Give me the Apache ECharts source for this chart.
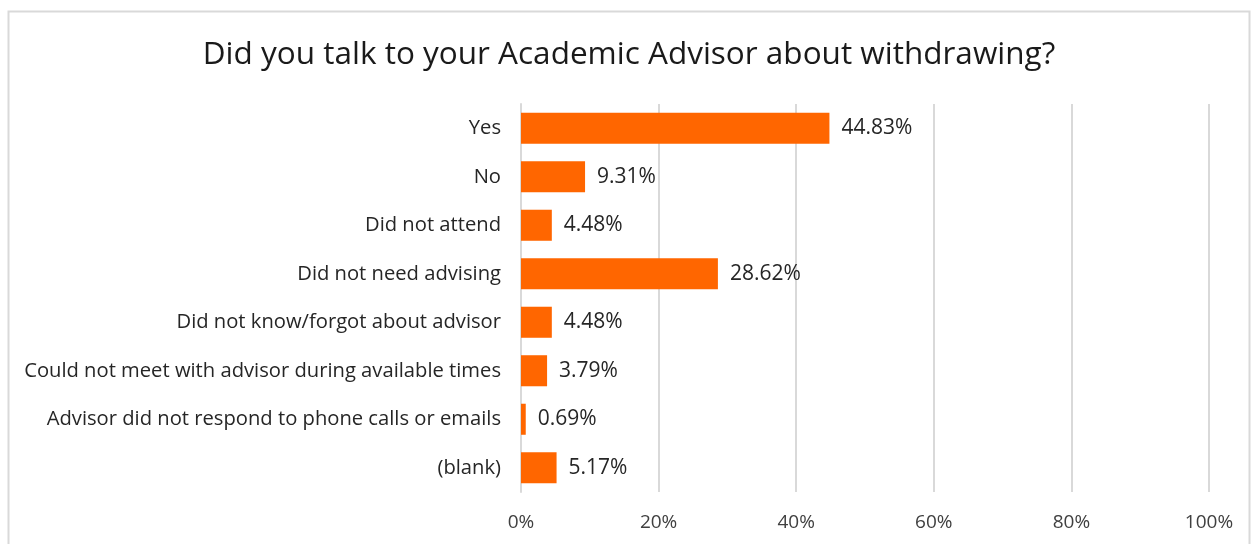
<!DOCTYPE html>
<html><head><meta charset="utf-8">
<script src="https://cdn.jsdelivr.net/npm/echarts@6/dist/echarts.min.js"></script>
<style>html,body{margin:0;padding:0;background:#fff}#c{width:1258px;height:544px}</style>
</head><body><div id="c"></div>
<script>
const categories = ["Yes","No","Did not attend","Did not need advising","Did not know/forgot about advisor","Could not meet with advisor during available times","Advisor did not respond to phone calls or emails","(blank)"];
const values = [44.83, 9.31, 4.48, 28.62, 4.48, 3.79, 0.69, 5.17];
const titleText = "Did you talk to your Academic Advisor about withdrawing?";
const font = "'Open Sans', 'Noto Sans', sans-serif";
const chart = echarts.init(document.getElementById('c'));
chart.setOption({
  animation:false,
  backgroundColor:'#fff',
  graphic:[{type:'rect',shape:{x:8.5,y:11.5,width:1241,height:560},style:{fill:'none',stroke:'#d9d9d9',lineWidth:2},silent:true,z:-1}],
  title:{text:titleText,left:'center',top:34,textStyle:{fontFamily:font,fontSize:31.5,fontWeight:'normal',color:'#1a1a1a'}},
  grid:{left:521,right:49,top:104,bottom:52,containLabel:false},
  xAxis:{type:'value',min:0,max:100,interval:20,
    axisLabel:{formatter:'{value}%',fontFamily:font,fontSize:19,color:'#404040',margin:21},
    axisLine:{show:false},axisTick:{show:false},
    splitLine:{lineStyle:{color:'#d9d9d9',width:2}}},
  yAxis:{type:'category',data:categories,inverse:true,
    axisLine:{show:true,lineStyle:{color:'#d9d9d9',width:2}},axisTick:{show:false},
    axisLabel:{fontFamily:font,fontSize:20.2,color:'#262626',margin:20}},
  series:[{type:'bar',data:values,barCategoryGap:'36%',itemStyle:{color:'#ff6600'},
    label:{show:true,position:'right',distance:12,formatter:p=>p.value.toFixed(2)+'%',fontFamily:font,fontSize:21,color:'#262626'}}]
});
</script></body></html>
